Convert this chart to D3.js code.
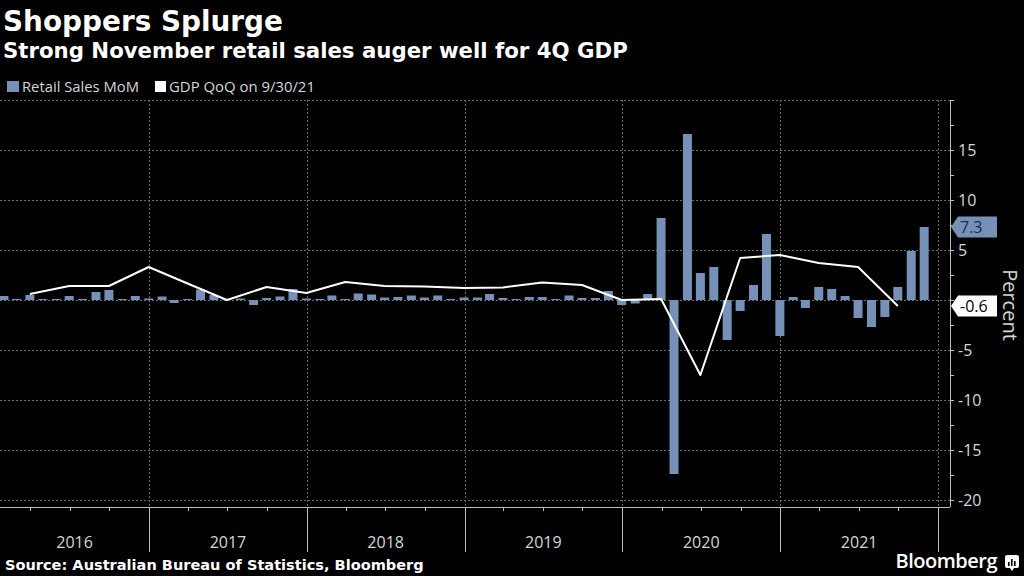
<!DOCTYPE html>
<html>
<head>
<meta charset="utf-8">
<script src="https://cdn.jsdelivr.net/npm/d3@7"></script>
<style>
  html, body { margin: 0; padding: 0; background: #000; }
  svg { display: block; }
  text { font-family: "Open Sans", "Noto Sans", sans-serif; }
  .bold { font-family: "DejaVu Sans", "Open Sans", sans-serif; font-weight: 700; }
</style>
</head>
<body>
<svg id="chart" width="1024" height="576"></svg>
<script>
// ---- Data ----
const months = [
  "2016-01","2016-02","2016-03","2016-04","2016-05","2016-06","2016-07","2016-08","2016-09","2016-10","2016-11","2016-12",
  "2017-01","2017-02","2017-03","2017-04","2017-05","2017-06","2017-07","2017-08","2017-09","2017-10","2017-11","2017-12",
  "2018-01","2018-02","2018-03","2018-04","2018-05","2018-06","2018-07","2018-08","2018-09","2018-10","2018-11","2018-12",
  "2019-01","2019-02","2019-03","2019-04","2019-05","2019-06","2019-07","2019-08","2019-09","2019-10","2019-11","2019-12",
  "2020-01","2020-02","2020-03","2020-04","2020-05","2020-06","2020-07","2020-08","2020-09","2020-10","2020-11","2020-12",
  "2021-01","2021-02","2021-03","2021-04","2021-05","2021-06","2021-07","2021-08","2021-09","2021-10","2021-11"
];
const retailSalesMoM = [
  0.4, 0.1, 0.5, 0.1, 0.1, 0.4, 0.1, 0.8, 1.0, 0.1, 0.4, 0.15,
  0.35, -0.3, 0.1, 1.05, 0.5, 0.1, 0.15, -0.5, 0.2, 0.35, 1.1, 0.15,
  0.1, 0.45, 0.1, 0.65, 0.55, 0.25, 0.3, 0.45, 0.25, 0.45, 0.1, 0.25,
  0.25, 0.6, 0.2, 0.1, 0.3, 0.3, 0.1, 0.45, 0.2, 0.2, 0.9, -0.5,
  -0.35, 0.6, 8.2, -17.4, 16.6, 2.7, 3.3, -4.0, -1.1, 1.5, 6.6, -3.6,
  0.3, -0.8, 1.3, 1.1, 0.4, -1.8, -2.7, -1.7, 1.3, 4.9, 7.3
];
const quarters = [
  "2016-03","2016-06","2016-09","2016-12",
  "2017-03","2017-06","2017-09","2017-12",
  "2018-03","2018-06","2018-09","2018-12",
  "2019-03","2019-06","2019-09","2019-12",
  "2020-03","2020-06","2020-09","2020-12",
  "2021-03","2021-06","2021-09"
];
const gdpQoQ = [
  0.6, 1.4, 1.4, 3.3,
  1.65, 0.0, 1.3, 0.7,
  1.8, 1.4, 1.35, 1.2,
  1.25, 1.75, 1.5, 0.0,
  0.1, -7.5, 4.2, 4.5,
  3.7, 3.3, -0.6
];
const years = [2016, 2017, 2018, 2019, 2020, 2021];
const yTickValues = [15, 10, 5, -5, -10, -15, -20];
const lastRetail = 7.3;
const lastGdp = -0.6;

// ---- Layout ----
const svg = d3.select("#chart");
const W = 1024, H = 576;
const plot = { left: 0, right: 950, top: 100, bottom: 507 };

svg.append("rect").attr("width", W).attr("height", H).attr("fill", "#000");

// fit a text element's font size so that its rendered width matches a target
function fitWidth(sel, target) {
  const fs = parseFloat(sel.attr("font-size"));
  const w = sel.node().getComputedTextLength();
  if (w > 0) sel.attr("font-size", (fs * target / w).toFixed(2));
  return sel;
}

// month-end date helper
const monthEnd = s => { const [yy, m] = s.split("-").map(Number); return new Date(yy, m, 0); };

const x = d3.scaleTime()
  .domain([new Date(2016, 0, 1), new Date(2022, 0, 1)])
  .range([-9, 938]);
const y = d3.scaleLinear().domain([20, -20.7]).range([plot.top, plot.bottom]);

const barColor = "#7591b8";
const gridColor = "#6a6a6a";
const axisColor = "#bdbdbd";
const textColor = "#d6d6d6";

// clip
svg.append("defs").append("clipPath").attr("id", "clip")
  .append("rect").attr("x", plot.left).attr("y", plot.top)
  .attr("width", plot.right - plot.left).attr("height", plot.bottom - plot.top);

// ---- Grid ----
const grid = svg.append("g");
const hGrid = d3.range(-20, 20.1, 5);
grid.selectAll("line.h").data(hGrid).join("line")
  .attr("x1", plot.left).attr("x2", plot.right)
  .attr("y1", d => y(d) + 0.5).attr("y2", d => y(d) + 0.5)
  .attr("stroke", gridColor).attr("stroke-width", 1).attr("stroke-dasharray", "2,2");
const yearBounds = d3.range(2017, 2023).map(yr => new Date(yr, 0, 1));
grid.selectAll("line.v").data(yearBounds).join("line")
  .attr("x1", d => Math.round(x(d)) + 0.5).attr("x2", d => Math.round(x(d)) + 0.5)
  .attr("y1", plot.top).attr("y2", plot.bottom)
  .attr("stroke", gridColor).attr("stroke-width", 1).attr("stroke-dasharray", "2,2");

// ---- Bars ----
const bw = 9;
const barData = months.map((m, i) => ({ date: monthEnd(m), v: retailSalesMoM[i] }));
svg.append("g").attr("clip-path", "url(#clip)")
  .selectAll("rect").data(barData).join("rect")
  .attr("x", d => x(d.date) - bw / 2)
  .attr("width", bw)
  .attr("y", d => Math.min(y(d.v), y(0)))
  .attr("height", d => Math.max(1, Math.abs(y(d.v) - y(0))))
  .attr("fill", barColor);

// ---- Line ----
const lineData = quarters.map((q, i) => ({ date: monthEnd(q), v: gdpQoQ[i] }));
svg.append("g").attr("clip-path", "url(#clip)")
  .append("path").datum(lineData)
  .attr("d", d3.line().x(d => x(d.date)).y(d => y(d.v)))
  .attr("fill", "none").attr("stroke", "#ffffff").attr("stroke-width", 2)
  .attr("stroke-linejoin", "round");

// ---- X axis ----
const xa = svg.append("g");
xa.append("line").attr("x1", plot.left).attr("x2", plot.right)
  .attr("y1", plot.bottom + 0.5).attr("y2", plot.bottom + 0.5)
  .attr("stroke", axisColor).attr("stroke-width", 1);
const quarterTicks = [];
years.forEach(yr => [3, 6, 9].forEach(m => quarterTicks.push(new Date(yr, m, 1))));
xa.selectAll("line.q").data(quarterTicks).join("line")
  .attr("x1", d => Math.round(x(d)) + 0.5).attr("x2", d => Math.round(x(d)) + 0.5)
  .attr("y1", plot.bottom).attr("y2", plot.bottom + 4)
  .attr("stroke", axisColor);
xa.selectAll("line.yr").data(yearBounds).join("line")
  .attr("x1", d => Math.round(x(d)) + 0.5).attr("x2", d => Math.round(x(d)) + 0.5)
  .attr("y1", plot.bottom).attr("y2", 552)
  .attr("stroke", axisColor);
xa.selectAll("text").data(years).join("text")
  .attr("x", yr => {
    const a = Math.max(plot.left, x(new Date(yr, 0, 1)));
    const b = x(new Date(yr + 1, 0, 1));
    return (a + b) / 2;
  })
  .attr("y", 548)
  .attr("text-anchor", "middle")
  .attr("fill", textColor).attr("font-size", 16)
  .text(d => d);

// ---- Y axis (right) ----
const ya = svg.append("g");
ya.append("line").attr("x1", plot.right + 0.5).attr("x2", plot.right + 0.5)
  .attr("y1", plot.top).attr("y2", plot.bottom)
  .attr("stroke", axisColor);
const allTicks = d3.range(-20, 20.1, 2.5);
ya.selectAll("line.t").data(allTicks).join("line")
  .attr("x1", plot.right).attr("x2", plot.right + 4)
  .attr("y1", d => y(d) + 0.5).attr("y2", d => y(d) + 0.5)
  .attr("stroke", axisColor);
ya.selectAll("text").data(yTickValues).join("text")
  .attr("x", plot.right + 8)
  .attr("y", d => y(d))
  .attr("dy", "0.35em")
  .attr("fill", textColor).attr("font-size", 16)
  .text(d => d < 0 ? "-" + Math.abs(d) : d);

// Axis title
svg.append("text")
  .attr("transform", `translate(1003,${y(0) + 5}) rotate(90)`)
  .attr("text-anchor", "middle")
  .attr("fill", textColor).attr("font-size", 20)
  .text("Percent");

// ---- Value tags ----
function tag(value, fill, txtColor) {
  const cy = y(value);
  const g = svg.append("g");
  const x0 = plot.right + 1, x1 = x0 + 7, x2 = 997, h = 10.5;
  g.append("path")
    .attr("d", `M${x0},${cy} L${x1},${cy - h} L${x2},${cy - h} L${x2},${cy + h} L${x1},${cy + h} Z`)
    .attr("fill", fill);
  g.append("text").attr("x", x0 + 9).attr("y", cy).attr("dy", "0.36em")
    .attr("fill", txtColor).attr("font-size", 16)
    .text(value < 0 ? "-" + Math.abs(value).toFixed(1) : value.toFixed(1));
}
tag(lastRetail, barColor, "#1f2d44");
tag(lastGdp, "#ffffff", "#000000");

// ---- Titles ----
fitWidth(svg.append("text").attr("class", "bold").attr("x", 3).attr("y", 31)
  .attr("fill", "#ffffff").attr("font-size", 27)
  .text("Shoppers Splurge"), 280);
fitWidth(svg.append("text").attr("class", "bold").attr("x", 3).attr("y", 58)
  .attr("fill", "#ffffff").attr("font-size", 19)
  .text("Strong November retail sales auger well for 4Q GDP"), 625);

// ---- Legend ----
const lg = svg.append("g");
lg.append("rect").attr("x", 7).attr("y", 81).attr("width", 12).attr("height", 11).attr("fill", barColor);
fitWidth(lg.append("text").attr("x", 22).attr("y", 91.5).attr("fill", textColor).attr("font-size", 14)
  .text("Retail Sales MoM"), 117);
lg.append("rect").attr("x", 155).attr("y", 81).attr("width", 11).attr("height", 11).attr("fill", "#ffffff");
fitWidth(lg.append("text").attr("x", 169).attr("y", 91.5).attr("fill", textColor).attr("font-size", 14)
  .text("GDP QoQ on 9/30/21"), 146);

// ---- Footer ----
fitWidth(svg.append("text").attr("class", "bold").attr("x", 5).attr("y", 570)
  .attr("fill", "#ffffff").attr("font-size", 14)
  .text("Source: Australian Bureau of Statistics, Bloomberg"), 419);
svg.append("text").attr("x", 997).attr("y", 568).attr("text-anchor", "end")
  .attr("fill", "#ffffff").attr("font-size", 20).attr("font-weight", 600)
  .attr("letter-spacing", -0.5)
  .text("Bloomberg");
const logo = svg.append("g").attr("transform", "translate(1005,555)");
logo.append("rect").attr("width", 14).attr("height", 13).attr("rx", 2).attr("fill", "#ffffff");
logo.append("path").attr("d", "M5,13 L7,16 L9,13 Z").attr("fill", "#ffffff");
[[3, 7, 4], [6, 4, 7], [9, 6, 5]].forEach(([bx, by, bh]) =>
  logo.append("rect").attr("x", bx).attr("y", by).attr("width", 1.6).attr("height", bh).attr("fill", "#000"));
</script>
</body>
</html>
